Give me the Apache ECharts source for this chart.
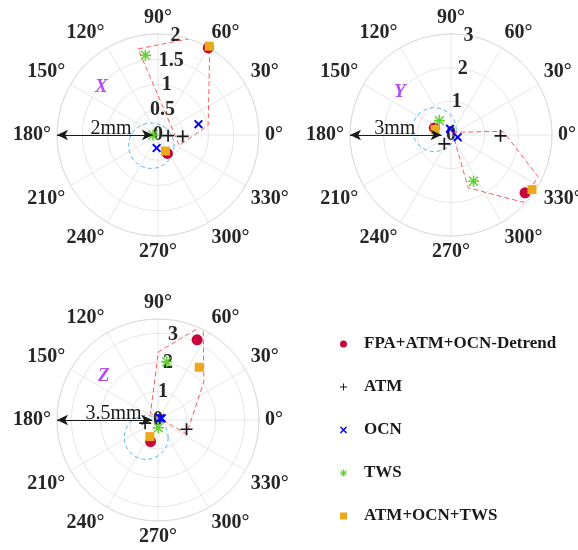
<!DOCTYPE html>
<html>
<head>
<meta charset="utf-8">
<script src="https://cdn.jsdelivr.net/npm/echarts@6/dist/echarts.min.js"></script>
<style>
  html, body { margin: 0; padding: 0; background: #fff; }
</style>
</head>
<body>
<div id="chart" style="width: 578px; height: 550px;"></div>
<script>
// panels: X, Y, Z components
const panelNames = ['X', 'Y', 'Z'];
const radiusMax = [2, 3, 3.5];
const radiusStep = [0.5, 1, 1];
const scaleLabels = ['2mm', '3mm', '3.5mm'];
const arrowTip = [0.1, 0.28, 0.2];

// [amplitude, phase(deg)] per panel, two points each
const fpaDetrend = [
  [[0.41, 297], [1.99, 60]],
  [[0.54, 157], [2.79, 322]],
  [[0.79, 251], [3.09, 64]]
];
const atm = [
  [[0.2, 356], [0.49, 357]],
  [[0.33, 233], [1.47, 359]],
  [[0.46, 194], [1.04, 342]]
];
const ocn = [
  [[0.26, 264], [0.83, 15]],
  [[0.19, 99], [0.21, 342]],
  [[0.14, 25], [0.1, 40]]
];
const tws = [
  [[0.1, 180], [1.6, 99]],
  [[0.55, 129], [1.53, 296]],
  [[0.27, 272], [2.04, 81.5]]
];
const atmOcnTws = [
  [[0.35, 295], [2.03, 60]],
  [[0.5, 161], [2.9, 326]],
  [[0.64, 244], [2.32, 52]]
];

// red dashed outline
const outline = [
  [[1.75, 103], [2.24, 62.6], [1.01, 10.7], [0.47, 334], [1.75, 103]],
  [[0.09, 65], [1.55, 4], [2.86, 334.5], [2.93, 317], [1.65, 288], [0.09, 65]],
  [[3.64, 64.5], [2.36, 89.7], [0.35, 138.6], [1.1, 334], [2.07, 39.8], [3.64, 64.5]]
];
// blue dashed circle: [amplitude, phase, radius]
const circles = [
  [[0.25, 238, 0.45]],
  [[0.52, 162, 0.65]],
  [[0.73, 236, 0.76]]
];

const centers = [[158, 135], [451, 135], [158, 420]];
const titlePos = [[95, 78], [394, 83], [98, 367]];
const scaleLabelShift = [6, -1, 9];
const font = 'Liberation Serif';
const txt = '#262626';

const plusPath = 'path://M4.3,0 h1.4 v10 h-1.4 z M0,4.3 h10 v1.4 h-10 z';
const crossPath = 'path://M0,1.5 L1.5,0 L10,8.5 L8.5,10 Z M8.5,0 L10,1.5 L1.5,10 L0,8.5 Z';
const starPath = 'path://M4.3,0 h1.4 v10 h-1.4 z M0,4.3 h10 v1.4 h-10 z M0.5,1.4 L1.4,0.5 L9.5,8.6 L8.6,9.5 Z M8.6,0.5 L9.5,1.4 L1.4,9.5 L0.5,8.6 Z';

const styles = [
  { name: 'FPA+ATM+OCN-Detrend', data: fpaDetrend, symbol: 'circle', size: 11, color: '#C8043C' },
  { name: 'ATM', data: atm, symbol: plusPath, size: 12, color: '#1a1a1a' },
  { name: 'OCN', data: ocn, symbol: crossPath, size: 9, color: '#0000FF' },
  { name: 'TWS', data: tws, symbol: starPath, size: 11, color: '#5ED12E' },
  { name: 'ATM+OCN+TWS', data: atmOcnTws, symbol: 'rect', size: 9, color: '#EDA81E' }
];

const polar = [], angleAxis = [], radiusAxis = [], series = [], title = [];

for (let i = 0; i < 3; i++) {
  polar.push({ center: centers[i], radius: 101 });
  angleAxis.push({
    polarIndex: i, type: 'value', min: 0, max: 360, interval: 30,
    startAngle: 0, clockwise: false,
    axisLine: { lineStyle: { color: '#dcdcdc', width: 1 } },
    axisTick: { show: false },
    splitLine: { lineStyle: { color: '#e6e6e6', width: 1 } },
    axisLabel: { formatter: '{value}°', fontFamily: font, fontWeight: 'bold', fontSize: 20, color: txt, margin: 6 }
  });
  radiusAxis.push({
    polarIndex: i, type: 'value', min: 0, max: radiusMax[i], interval: radiusStep[i],
    axisLine: { show: false }, axisTick: { show: false }, axisLabel: { show: false },
    splitLine: { lineStyle: { color: '#e6e6e6', width: 1 } }
  });
  title.push({
    text: panelNames[i], left: titlePos[i][0], top: titlePos[i][1], padding: 0,
    textStyle: { fontFamily: font, fontStyle: 'italic', fontWeight: 'bold', fontSize: 19, color: '#B44CF2' }
  });
}
// second set of polars, only to put the radius tick labels along 80 deg
for (let i = 0; i < 3; i++) {
  polar.push({ center: centers[i], radius: 101 });
  angleAxis.push({ polarIndex: i + 3, type: 'value', min: 0, max: 360, startAngle: 80, clockwise: false, show: false });
  radiusAxis.push({
    polarIndex: i + 3, type: 'value', min: 0, max: radiusMax[i], interval: radiusStep[i],
    axisLine: { show: false }, axisTick: { show: false }, splitLine: { show: false },
    axisLabel: {
      margin: 0, align: 'center', verticalAlign: 'middle', showMaxLabel: i < 2,
      fontFamily: font, fontWeight: 'bold', fontSize: 20, color: txt
    }
  });
}

for (let i = 0; i < 3; i++) {
  series.push({
    type: 'line', coordinateSystem: 'polar', polarIndex: i, data: outline[i], symbol: 'none', clip: false,
    lineStyle: { color: '#FF5C5C', width: 1, type: [5, 3] }, silent: true, z: 1,
    markLine: {
      silent: true, symbol: ['arrow', 'arrow'], symbolSize: [8, 11],
      lineStyle: { color: '#1a1a1a', width: 1, type: 'solid' },
      label: {
        show: true, formatter: scaleLabels[i], position: 'insideMiddleTop', distance: 0,
        offset: [scaleLabelShift[i], 4], fontFamily: font, fontSize: 20, color: '#1a1a1a'
      },
      data: [[{ coord: [radiusMax[i], 180] }, { coord: [arrowTip[i], 180] }]]
    }
  });
  series.push({
    type: 'custom', coordinateSystem: 'polar', polarIndex: i, data: circles[i], silent: true, z: 1,
    renderItem: function (params, api) {
      const c = api.coord([api.value(0), api.value(1)]);
      const o = api.coord([0, 0]);
      const e = api.coord([api.value(2), 0]);
      const rr = Math.hypot(e[0] - o[0], e[1] - o[1]);
      return {
        type: 'circle', shape: { cx: c[0], cy: c[1], r: rr },
        style: { fill: 'none', stroke: '#5AB4F0', lineWidth: 1, lineDash: [4, 3] }
      };
    }
  });
  styles.forEach(function (st) {
    series.push({
      name: st.name, type: 'scatter', coordinateSystem: 'polar', polarIndex: i, data: st.data[i],
      symbol: st.symbol, symbolSize: st.size, z: 3, clip: false, itemStyle: { color: st.color, opacity: 1 }
    });
  });
}

const myChart = echarts.init(document.getElementById('chart'));
myChart.setOption({
  animation: false,
  title: title,
  polar: polar,
  angleAxis: angleAxis,
  radiusAxis: radiusAxis,
  legend: {
    data: styles.map(s => s.name), orient: 'vertical', left: 340, top: 335, padding: 0,
    itemWidth: 7, itemHeight: 7, itemGap: 25, selectedMode: false,
    textStyle: { fontFamily: font, fontWeight: 'bold', fontSize: 17, lineHeight: 18, color: '#1a1a1a', padding: [0, 0, 0, 12] }
  },
  series: series
});
</script>
</body>
</html>
